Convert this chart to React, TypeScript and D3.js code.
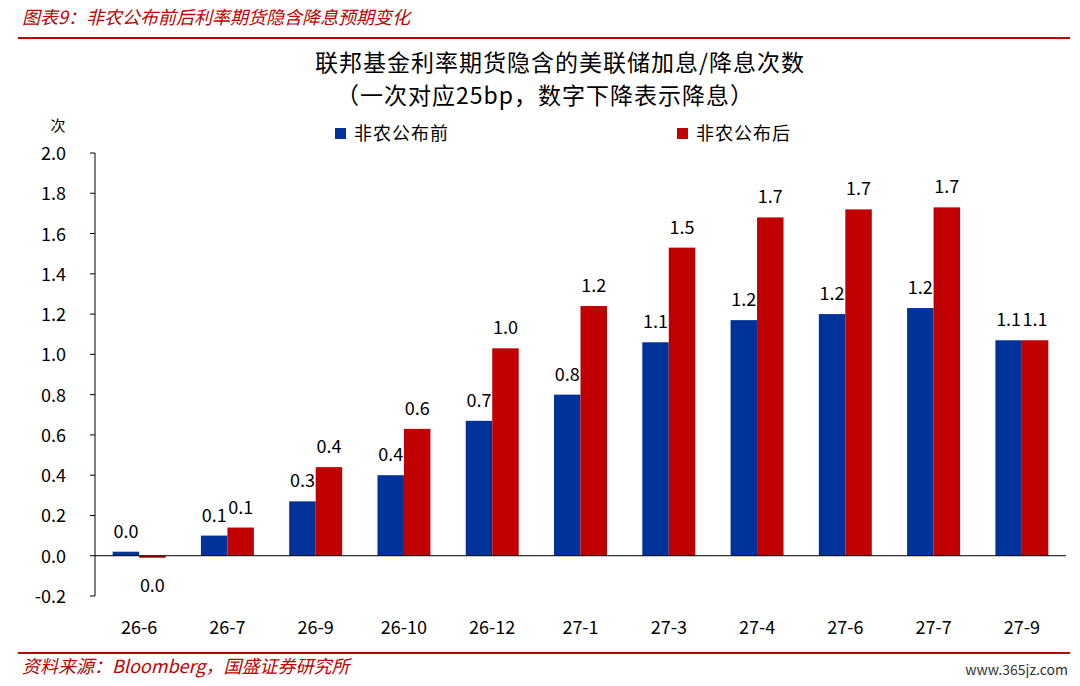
import * as d3 from "d3";

const categories = ["26-6", "26-7", "26-9", "26-10", "26-12", "27-1", "27-3", "27-4", "27-6", "27-7", "27-9"];
const before = [0.02, 0.1, 0.27, 0.4, 0.67, 0.8, 1.06, 1.17, 1.2, 1.23, 1.07];
const after = [-0.01, 0.14, 0.44, 0.63, 1.03, 1.24, 1.53, 1.68, 1.72, 1.73, 1.07];
const yTicks = [-0.2, 0, 0.2, 0.4, 0.6, 0.8, 1.0, 1.2, 1.4, 1.6, 1.8, 2.0];

const BLUE = "#003399";
const RED = "#C00000";
const FONT = "'Noto Sans CJK SC', 'Noto Sans', sans-serif";

export default function App() {
  const W = 1080, H = 686;
  const left = 95, right = 1066, top = 153, bottom = 596;
  const x = d3.scaleBand().domain(categories).range([left, right]).paddingInner(0.4).paddingOuter(0.2);
  const y = d3.scaleLinear().domain([-0.2, 2.0]).range([bottom, top]);
  const bw = x.bandwidth() / 2;
  return (
    <svg width={W} height={H} style={{ display: "block", margin: -8, fontFamily: FONT }}>
      <rect width={W} height={H} fill="#fff" />
      <text x={22} y={24} fill={RED} fontSize={18} fontStyle="italic">图表9：非农公布前后利率期货隐含降息预期变化</text>
      <line x1={18} x2={1070} y1={38} y2={38} stroke={RED} strokeWidth={2} />
      <text x={560} y={71} textAnchor="middle" fontSize={23} letterSpacing={1}>联邦基金利率期货隐含的美联储加息/降息次数</text>
      <text x={545} y={104} textAnchor="middle" fontSize={23} letterSpacing={1}>（一次对应25bp，数字下降表示降息）</text>
      <text x={58} y={131} textAnchor="middle" fontSize={15}>次</text>
      <rect x={335} y={128} width={11} height={11} fill={BLUE} />
      <text x={354} y={140} fontSize={18} letterSpacing={1}>非农公布前</text>
      <rect x={677} y={128} width={11} height={11} fill={RED} />
      <text x={696} y={140} fontSize={18} letterSpacing={1}>非农公布后</text>
      {yTicks.map(t => (
        <g key={t}>
          <line x1={left - 5} x2={left} y1={y(t)} y2={y(t)} stroke="#000" />
          <text x={66} y={y(t) + 7} fontSize={18} textAnchor="end">{t.toFixed(1)}</text>
        </g>
      ))}
      <line x1={left} x2={left} y1={top} y2={bottom} stroke="#000" />
      {categories.map((c, i) => {
        const x0 = x(c)!;
        const vb = before[i], va = after[i];
        return (
          <g key={c}>
            <rect x={x0} width={bw} y={y(Math.max(0, vb))} height={Math.abs(y(vb) - y(0))} fill={BLUE} />
            <rect x={x0 + bw} width={bw} y={y(Math.max(0, va))} height={Math.abs(y(va) - y(0))} fill={RED} />
            <text x={x0 + bw / 2} y={y(Math.max(0, vb)) - 14} fontSize={18} textAnchor="middle">{vb.toFixed(1)}</text>
            <text x={x0 + bw * 1.5} y={va < 0 ? y(va) + 34 : y(va) - 14} fontSize={18} textAnchor="middle">{Math.abs(va).toFixed(1)}</text>
            <text x={x0 + bw} y={634} fontSize={18} textAnchor="middle">{c}</text>
          </g>
        );
      })}
      <line x1={left} x2={right} y1={y(0)} y2={y(0)} stroke="#000" />
      <line x1={18} x2={1070} y1={653} y2={653} stroke={RED} strokeWidth={2} />
      <text x={22} y={673} fill={RED} fontSize={18} fontStyle="italic">资料来源：Bloomberg，国盛证券研究所</text>
      <text x={1068} y={675} textAnchor="end" fontSize={14} fill="#333">www.365jz.com</text>
    </svg>
  );
}
